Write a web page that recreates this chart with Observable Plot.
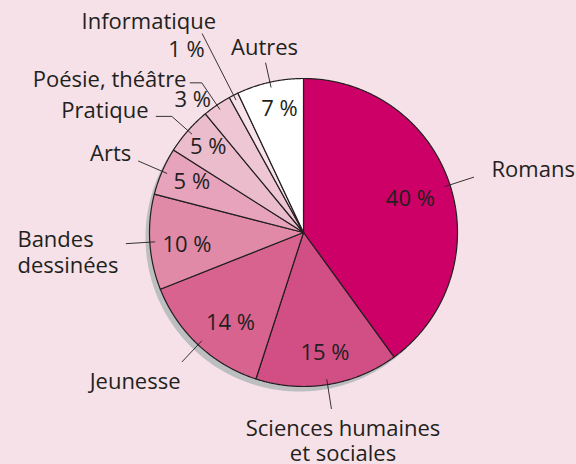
<!DOCTYPE html>
<html><head><meta charset="utf-8">
<script src="https://cdn.jsdelivr.net/npm/d3@7"></script>
<script src="https://cdn.jsdelivr.net/npm/@observablehq/plot@0.6"></script>
<style>
html,body{margin:0;padding:0;background:#f5e1e7;}
#chart svg{display:block;}
</style>
</head><body><div id="chart"></div>
<script>
// ---- data ----
const categories = ["Romans", "Sciences humaines\net sociales", "Jeunesse", "Bandes\ndessinées", "Arts", "Pratique", "Poésie, théâtre", "Informatique", "Autres"];
const shares = [40, 15, 14, 10, 5, 5, 3, 1, 7];
const shareLabels = ["40 %", "15 %", "14 %", "10 %", "5 %", "5 %", "3 %", "1 %", "7 %"];

// ---- styles ----
const sliceColors = ["#cc0066", "#d24f86", "#d8638f", "#e08aa8", "#e6a3bb", "#ebbccc", "#efc7d4", "#f8e2ea", "#ffffff"];
const bg = "#f5e1e7", ink = "#231f20", shadowColor = "#bcbec0";

// ---- layout ----
const W = 576, H = 464, cx = 303, cy = 232, R = 154;
const shadowOffset = [-4, 5];
// leader: outer radius factor, horizontal tail length
const leaderOuter = [1.164, 1.16, 1.153, 1.156, 1.17, 1.14, 1.175, 1.45, 1.13];
const leaderTail = [0, 0, 0, 0, 0, 16, 12, 0, 0];
// name label offsets from leader end, anchor
const nameOffset = [[17.5, -8.3], [11.6, 31.5], [-1.4, 18.8], [-108.4, 8.2], [-6.8, -7.7], [-7.3, -6.5], [-3.3, -4], [-53.3, -12.8], [-1, -15.4]];
const nameAnchor = ["start", "middle", "end", "start", "end", "end", "end", "middle", "middle"];
// percentage labels: radius factor, angle shift (deg) from slice middle
const pctRadius = [0.73, 0.78, 0.745, 0.76, 0.8, 0.84, 1.132, 1.419, 0.83];
const pctShift = [-0.1, -1.3, -3.7, -1.8, 1.6, 1.1, -5.3, -5.4, 1.8];

const polar = (r, a) => [cx + r * Math.sin(a), cy - r * Math.cos(a)];
const arcs = d3.pie().sort(null).value(d => d)(shares);

const slicePts = [];
arcs.forEach((a, i) => {
  slicePts.push({cat: categories[i], x: cx, y: cy});
  const n = Math.max(2, Math.ceil((a.endAngle - a.startAngle) / 0.005));
  for (let k = 0; k <= n; k++) {
    const t = a.startAngle + (a.endAngle - a.startAngle) * k / n;
    const [x, y] = polar(R, t);
    slicePts.push({cat: categories[i], x, y});
  }
});

const shadowPts = d3.range(0, 721).map(k => {
  const [x, y] = polar(R, k / 720 * 2 * Math.PI);
  return {x: x + shadowOffset[0], y: y + shadowOffset[1]};
});

const leaders = [], names = [], pcts = [];
arcs.forEach((a, i) => {
  const mid = (a.startAngle + a.endAngle) / 2;
  const [x1, y1] = polar(R * 0.965, mid);
  const [x2, y2] = polar(R * leaderOuter[i], mid);
  leaders.push({x1, y1, x2, y2});
  let ex = x2, ey = y2;
  if (leaderTail[i]) {
    leaders.push({x1: x2, y1: y2, x2: x2 - leaderTail[i], y2: y2});
    ex = x2 - leaderTail[i];
  }
  names.push({text: categories[i], x: ex + nameOffset[i][0], y: ey + nameOffset[i][1], anchor: nameAnchor[i]});
  const [px, py] = polar(R * pctRadius[i], mid + pctShift[i] * Math.PI / 180);
  pcts.push({text: shareLabels[i], x: px, y: py + 0.8});
});

const textOpts = {fontSize: 22, fill: ink, fontFamily: "Open Sans", lineHeight: 1.15};

const chart = Plot.plot({
  width: W, height: H, margin: 0,
  x: {domain: [0, W], range: [0, W], axis: null},
  y: {domain: [0, H], range: [0, H], axis: null},
  color: {domain: categories, range: sliceColors},
  style: {background: bg, fontFamily: "Open Sans", overflow: "visible"},
  marks: [
    Plot.line(shadowPts, {x: "x", y: "y", fill: shadowColor, stroke: "none", curve: "linear-closed"}),
    Plot.line(slicePts, {x: "x", y: "y", z: "cat", fill: "cat", stroke: ink, strokeWidth: 1.2, curve: "linear-closed", strokeLinejoin: "round"}),
    Plot.link(leaders, {x1: "x1", y1: "y1", x2: "x2", y2: "y2", stroke: ink, strokeWidth: 0.9}),
    Plot.text(pcts, {x: "x", y: "y", text: "text", ...textOpts}),
    Plot.text(names.filter(d => d.anchor === "start"), {x: "x", y: "y", text: "text", textAnchor: "start", ...textOpts}),
    Plot.text(names.filter(d => d.anchor === "middle"), {x: "x", y: "y", text: "text", textAnchor: "middle", ...textOpts}),
    Plot.text(names.filter(d => d.anchor === "end"), {x: "x", y: "y", text: "text", textAnchor: "end", ...textOpts})
  ]
});
document.getElementById("chart").append(chart);
</script>
</body></html>
